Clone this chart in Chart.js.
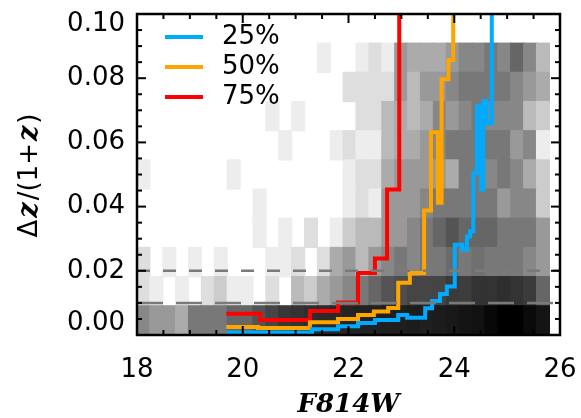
<!DOCTYPE html>
<html>
<head>
<meta charset="utf-8">
<script src="https://cdn.jsdelivr.net/npm/chart.js@4.4.0/dist/chart.umd.min.js"></script>
<style>
  html, body { margin: 0; padding: 0; background: #fff; }
  #wrap { width: 581px; height: 418px; }
</style>
</head>
<body>
<div id="wrap"><canvas id="photoz"></canvas></div>
<script>
// 2D histogram bins (F814W magnitude x dz/(1+z))
const magMin = 18.0;
const magBinWidth = 0.24375;
const dzBinHeight = 0.1 / 11;

// darkness of each cell, 0 = empty/white ... 100 = black
// rows go from dz = 0 upward, 32 magnitude bins per row
const density = [
  [47,40,40,33,53,53,53,60,60,67,73,78,80,82,83,84,86,87,87,88,88,89,88,89,90,92,93,97,100,100,96,92],
  [13,7,0,7,0,13,20,7,7,0,13,0,27,20,33,40,47,53,60,67,70,73,73,73,77,76,80,80,82,80,77,60],
  [13,0,7,0,7,0,7,0,0,0,7,7,13,0,13,33,40,27,40,47,53,47,53,53,58,53,56,53,53,53,47,40],
  [0,0,0,0,0,0,0,0,0,7,0,7,0,13,0,7,20,27,27,40,40,47,53,60,67,60,60,60,53,53,53,40],
  [0,0,0,0,0,0,0,0,0,7,0,0,0,0,0,0,7,13,7,40,40,40,47,53,53,53,53,53,40,47,47,20],
  [7,0,0,0,0,0,0,7,0,0,0,0,0,0,0,0,7,13,13,33,40,40,40,40,33,53,53,47,53,47,33,20],
  [0,0,0,0,0,0,0,0,0,0,0,7,0,0,0,7,13,7,7,27,33,33,40,47,53,53,53,53,53,40,47,7],
  [0,0,0,0,0,0,0,0,0,0,7,0,7,0,0,0,0,13,13,27,33,27,33,47,40,47,53,47,47,47,27,20],
  [0,0,0,0,0,0,0,0,0,0,0,0,0,0,0,0,13,13,13,13,40,27,40,40,47,53,53,53,53,47,40,33],
  [0,0,0,0,0,0,0,0,0,0,0,0,0,0,7,0,0,7,13,7,40,33,33,33,40,47,47,53,47,60,47,27]
];

// percentile curves: step starts (mag) and dz/(1+z) value of each step
// last step runs off the top of the plot
const p25Mag = [19.69, 21.31, 21.80, 22.18, 22.50, 22.94, 23.11, 23.45, 23.58, 23.73, 23.86, 24.01, 24.15, 24.24, 24.30, 24.36, 24.43, 24.51, 24.55, 24.61, 24.71];
const p25Dz  = [0.0008, 0.0018, 0.0027, 0.0037, 0.0047, 0.0062, 0.0054, 0.0083, 0.0106, 0.0128, 0.0151, 0.0281, 0.0266, 0.0307, 0.0323, 0.0505, 0.0713, 0.0453, 0.0729, 0.066, 0.2];
const p50Mag = [19.69, 20.29, 21.27, 21.80, 22.18, 22.48, 22.75, 22.94, 23.16, 23.43, 23.56, 23.69, 23.76, 23.89, 23.98];
const p50Dz  = [0.0025, 0.0022, 0.0040, 0.0050, 0.0062, 0.0073, 0.0084, 0.0163, 0.0193, 0.0388, 0.0632, 0.0412, 0.0797, 0.0857, 0.2];
const p75Mag = [19.69, 20.33, 21.27, 21.80, 22.18, 22.50, 22.73, 22.96];
const p75Dz  = [0.0066, 0.0047, 0.0075, 0.0101, 0.0193, 0.0238, 0.0453, 0.2];

const curveLabels = ['25%', '50%', '75%'];
const curveColors = ['#00aaff', '#ffa500', '#ff0000'];

// reference levels
const refLevels = [0.02, 0.01];
const refDashes = [[13, 13], [26, 13]];

const xMin = 18, xMax = 26, xMajor = 2, xMinor = 0.5;
const yMin = 0, yMax = 0.1, yMajor = 0.02, yMinor = 0.005;

Chart.defaults.font.family = 'DejaVu Sans';
Chart.defaults.color = '#000';

const grey = d => {
  const g = Math.round(255 * (1 - d / 100));
  return `rgb(${g},${g},${g})`;
};
const toPoints = (mags, vals) => mags.map((m, i) => ({ x: m, y: vals[i] }));

const datasets = [];

// dashed reference lines (drawn on top)
refLevels.forEach((lvl, i) => {
  datasets.push({
    type: 'line',
    data: [{ x: xMin, y: lvl }, { x: xMax, y: lvl }],
    borderColor: '#7a7a7a',
    borderWidth: 2.5,
    borderDash: refDashes[i],
    pointRadius: 0,
    order: 0
  });
});

// percentile step curves
[[p25Mag, p25Dz], [p50Mag, p50Dz], [p75Mag, p75Dz]].forEach(([m, v], i) => {
  datasets.push({
    type: 'line',
    label: curveLabels[i],
    data: toPoints(m, v),
    borderColor: curveColors[i],
    borderWidth: 4,
    stepped: true,
    pointRadius: 0,
    order: 1
  });
});

// histogram rows as floating bars
density.forEach((row, r) => {
  const pts = [];
  row.forEach((d, c) => {
    if (d > 0) {
      pts.push({ x: magMin + (c + 0.5) * magBinWidth, y: [r * dzBinHeight, (r + 1) * dzBinHeight], d });
    }
  });
  datasets.push({
    type: 'bar',
    data: pts,
    backgroundColor: ctx => (ctx.raw ? grey(ctx.raw.d) : '#fff'),
    borderWidth: 0,
    grouped: false,
    barPercentage: 1,
    categoryPercentage: 1,
    inflateAmount: 0.6,
    order: 2
  });
});

// frame with inward major/minor ticks
const frameTicks = {
  id: 'frameTicks',
  afterDatasetsDraw(chart) {
    const { ctx, chartArea: a, scales: { x, y } } = chart;
    const seg = (x1, y1, x2, y2) => { ctx.beginPath(); ctx.moveTo(x1, y1); ctx.lineTo(x2, y2); ctx.stroke(); };
    ctx.save();
    ctx.strokeStyle = '#000';
    ctx.lineWidth = 2;
    for (let v = xMin; v <= xMax + 1e-9; v += xMinor) {
      const px = x.getPixelForValue(v);
      const len = Math.abs(v / xMajor - Math.round(v / xMajor)) < 1e-6 ? 9 : 5;
      seg(px, a.bottom, px, a.bottom - len);
      seg(px, a.top, px, a.top + len);
    }
    for (let v = yMin; v <= yMax + 1e-9; v += yMinor) {
      const py = y.getPixelForValue(v);
      const len = Math.abs(v / yMajor - Math.round(v / yMajor)) < 1e-6 ? 9 : 5;
      seg(a.left, py, a.left + len, py);
      seg(a.right, py, a.right - len, py);
    }
    ctx.lineWidth = 2.5;
    ctx.strokeRect(a.left, a.top, a.right - a.left, a.bottom - a.top);
    ctx.restore();
  }
};

// legend inside the plot, top left
const insideLegend = {
  id: 'insideLegend',
  afterDraw(chart) {
    const { ctx, chartArea: a } = chart;
    ctx.save();
    ctx.font = '26px "DejaVu Sans"';
    ctx.textBaseline = 'middle';
    ctx.fillStyle = '#000';
    let row = 0;
    chart.data.datasets.forEach(ds => {
      if (!ds.label) return;
      const yy = a.top + 23 + row * 30;
      ctx.strokeStyle = ds.borderColor;
      ctx.lineWidth = 4;
      ctx.beginPath();
      ctx.moveTo(a.left + 28, yy);
      ctx.lineTo(a.left + 66, yy);
      ctx.stroke();
      ctx.fillText(ds.label, a.left + 85, yy);
      row++;
    });
    ctx.restore();
  }
};

// y axis title with bold italic z
const yTitle = {
  id: 'yTitle',
  afterDraw(chart) {
    const { ctx, chartArea: a } = chart;
    const sans = '26px "DejaVu Sans"';
    const zed = 'italic bold 27px "DejaVu Serif"';
    const parts = [['Δ', sans], ['z', zed], ['/(1+', sans], ['z', zed], [')', sans]];
    ctx.save();
    ctx.translate(30, (a.top + a.bottom) / 2);
    ctx.rotate(-Math.PI / 2);
    ctx.textBaseline = 'middle';
    ctx.fillStyle = '#000';
    let total = 0;
    parts.forEach(([t, f]) => { ctx.font = f; total += ctx.measureText(t).width + 2; });
    let cx = -total / 2;
    parts.forEach(([t, f]) => {
      ctx.font = f;
      ctx.fillText(t, cx, 0);
      cx += ctx.measureText(t).width + 2;
    });
    ctx.restore();
  }
};

new Chart(document.getElementById('photoz'), {
  type: 'bar',
  data: { datasets },
  options: {
    responsive: true,
    maintainAspectRatio: false,
    animation: false,
    layout: { padding: { top: 14, right: 21, bottom: 0, left: 0 } },
    plugins: { legend: { display: false }, tooltip: { enabled: false } },
    scales: {
      x: {
        type: 'linear',
        min: xMin,
        max: xMax,
        offset: false,
        grid: { display: false, drawTicks: false },
        border: { display: false },
        ticks: { stepSize: xMajor, padding: 20, font: { size: 26 }, maxRotation: 0 },
        title: {
          display: true,
          text: 'F814W',
          font: { family: 'DejaVu Serif', size: 26, weight: 'bold', style: 'italic', lineHeight: 0.8 },
          padding: { top: 0, bottom: 2 }
        },
        afterFit: s => { s.height = 83; s.paddingLeft = 0; s.paddingRight = 0; }
      },
      y: {
        type: 'linear',
        min: yMin,
        max: yMax,
        grid: { display: false, drawTicks: false },
        border: { display: false },
        ticks: {
          stepSize: yMajor,
          padding: 12,
          font: ctx => {
            const v = ctx.tick ? ctx.tick.value : 0.05;
            if (v > 0.099) return { size: 26, lineHeight: 20 / 26 };
            if (v < 0.001) return { size: 26, lineHeight: 24 / 26 };
            return { size: 26 };
          },
          callback: v => {
            const s = v.toFixed(2);
            if (v > 0.099) return ['', s];
            if (v < 0.001) return [s, ''];
            return s;
          }
        },
        afterFit: s => { s.width = 137; s.paddingTop = 0; s.paddingBottom = 0; }
      }
    }
  },
  plugins: [frameTicks, insideLegend, yTitle]
});
</script>
</body>
</html>
